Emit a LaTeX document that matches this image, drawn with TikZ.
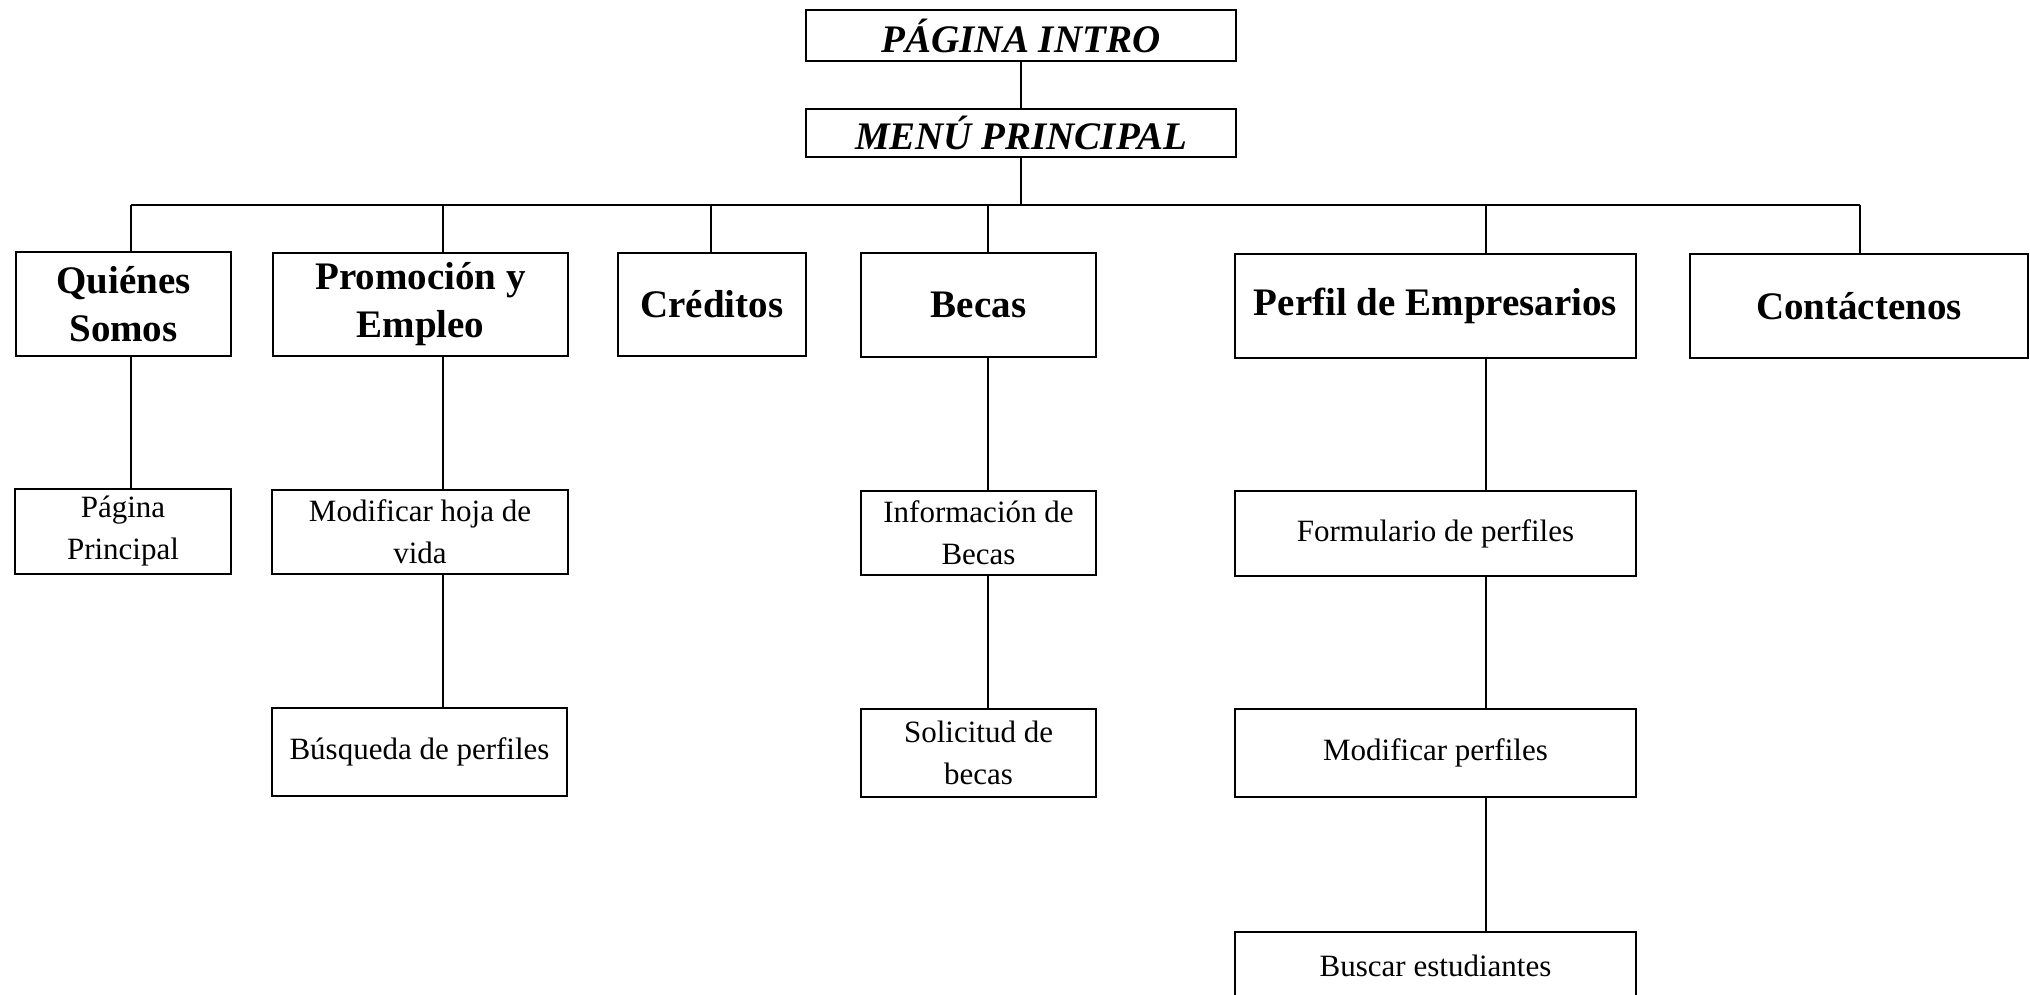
\documentclass[tikz,border=0pt]{standalone}
\usepackage{fontspec}
\setmainfont{Liberation Serif}
\begin{document}
\begin{tikzpicture}[x=0.5pt,y=-0.5pt,
  box/.style={draw,line width=1.4pt,rectangle,inner sep=0pt,align=center},
  topbox/.style={box,font=\fontsize{19.5}{24}\selectfont\bfseries\itshape},
  mainbox/.style={box,font=\fontsize{19.5}{24}\selectfont\bfseries},
  subbox/.style={box,font=\fontsize{15.5}{21}\selectfont},
  link/.style={line width=1.2pt}]
\useasboundingbox (0,0) rectangle (2030,995);
% top
\node[topbox,minimum width=215pt,minimum height=25.5pt] (intro) at (1021,35.5) {PÁGINA INTRO};
\node[topbox,minimum width=215pt,minimum height=24pt] (menu) at (1021,133) {MENÚ PRINCIPAL};
% level 1
\node[mainbox,minimum width=107.5pt,minimum height=52pt] (quienes) at (123.5,304) {Quiénes\\Somos};
\node[mainbox,minimum width=147.5pt,minimum height=51.5pt] (promo) at (420.5,304.5) {Promoción y\\Empleo};
\node[mainbox,minimum width=94pt,minimum height=51.5pt] (creditos) at (712,304.5) {Créditos};
\node[mainbox,minimum width=117.5pt,minimum height=52pt] (becas) at (978.5,305) {Becas};
\node[mainbox,minimum width=200.5pt,minimum height=52pt] (perfil) at (1435.5,306) {Perfil de Empresarios};
\node[mainbox,minimum width=169pt,minimum height=52pt] (contact) at (1859,306) {Contáctenos};
% level 2
\node[subbox,minimum width=108pt,minimum height=42.5pt] (pagina) at (123,531.5) {Página\\Principal};
\node[subbox,minimum width=148pt,minimum height=42pt] (modhoja) at (420,532) {Modificar hoja de\\vida};
\node[subbox,minimum width=117.5pt,minimum height=42pt] (info) at (978.5,533) {Información de\\Becas};
\node[subbox,minimum width=200.5pt,minimum height=42.5pt] (formu) at (1435.5,533.5) {Formulario de perfiles};
% level 3
\node[subbox,minimum width=147.5pt,minimum height=44pt] (busq) at (419.5,752) {Búsqueda de perfiles};
\node[subbox,minimum width=117.5pt,minimum height=44pt] (solic) at (978.5,753) {Solicitud de\\becas};
\node[subbox,minimum width=200.5pt,minimum height=44pt] (modperf) at (1435.5,753) {Modificar perfiles};
% level 4
\node[subbox,minimum width=200.5pt,minimum height=34pt] (buscar) at (1435.5,966) {Buscar estudiantes};
% bus coordinates
\coordinate (bq) at (131,205);
\coordinate (bp) at (443,205);
\coordinate (bc) at (711,205);
\coordinate (bb) at (988,205);
\coordinate (bf) at (1486,205);
\coordinate (bt) at (1860,205);
% connectors
\draw[link] (intro.south) -- (menu.north);
\draw[link] (menu.south) -- (menu.south |- bb);
\draw[link] (bq) -- (bt);
\draw[link] (bq) -- (bq |- quienes.north);
\draw[link] (bp) -- (bp |- promo.north);
\draw[link] (bc) -- (bc |- creditos.north);
\draw[link] (bb) -- (bb |- becas.north);
\draw[link] (bf) -- (bf |- perfil.north);
\draw[link] (bt) -- (bt |- contact.north);
\draw[link] (bq |- quienes.south) -- (bq |- pagina.north);
\draw[link] (bp |- promo.south) -- (bp |- modhoja.north);
\draw[link] (bp |- modhoja.south) -- (bp |- busq.north);
\draw[link] (bb |- becas.south) -- (bb |- info.north);
\draw[link] (bb |- info.south) -- (bb |- solic.north);
\draw[link] (bf |- perfil.south) -- (bf |- formu.north);
\draw[link] (bf |- formu.south) -- (bf |- modperf.north);
\draw[link] (bf |- modperf.south) -- (bf |- buscar.north);
\end{tikzpicture}
\end{document}
